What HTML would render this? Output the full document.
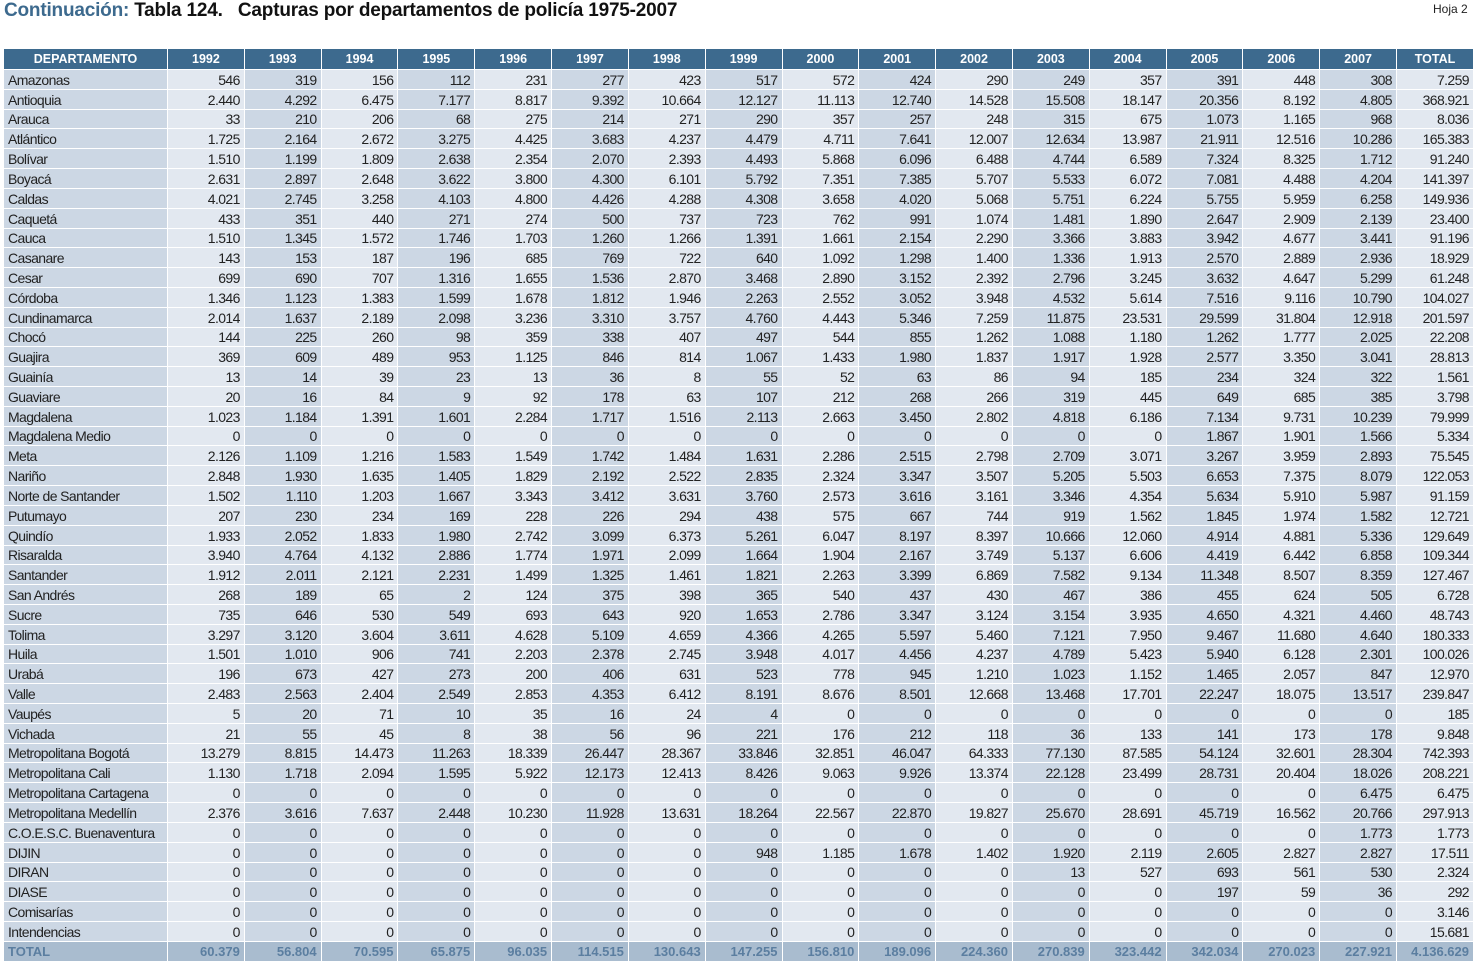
<!DOCTYPE html>
<html><head><meta charset="utf-8">
<style>
html,body{margin:0;padding:0;background:#fff;width:1480px;height:965px;overflow:hidden;font-family:"Liberation Sans",sans-serif;}
#title{position:absolute;left:4px;top:0px;font-size:19px;font-weight:bold;color:#111;white-space:nowrap;letter-spacing:-0.2px}
#title span{color:#3d6a8e}
#hoja{position:absolute;left:1433px;top:2px;font-size:12px;color:#222}
table{position:absolute;left:3px;top:48px;border-collapse:collapse;table-layout:fixed;width:1471px}
td,th{height:18.82px;padding:0 4px;border:1px solid #fff;font-size:14px;text-align:right;white-space:nowrap;overflow:hidden;color:#222;letter-spacing:-0.6px;line-height:18px;vertical-align:bottom}
th{background:#3d6a8e;color:#fff;font-size:12.5px;text-align:center;height:20px;font-weight:bold;letter-spacing:0;vertical-align:middle}
td.n{text-align:left}
td.d{background:#ccd7e4}
td.l{background:#e2e8f0}
tr.tot td{background:#a9bccf;color:#5b7ea0;font-weight:bold;font-size:13px;letter-spacing:0}
</style></head><body>
<div id="title"><span>Continuación:</span> Tabla 124.&nbsp;&nbsp; Capturas por departamentos de policía 1975-2007</div>
<div id="hoja">Hoja 2</div>
<table id="t">
<colgroup><col style="width:164px"></colgroup>
</table>
<script>
const headers=["DEPARTAMENTO","1992","1993","1994","1995","1996","1997","1998","1999","2000","2001","2002","2003","2004","2005","2006","2007","TOTAL"];
const rows=[
"Amazonas|546|319|156|112|231|277|423|517|572|424|290|249|357|391|448|308|7.259",
"Antioquia|2.440|4.292|6.475|7.177|8.817|9.392|10.664|12.127|11.113|12.740|14.528|15.508|18.147|20.356|8.192|4.805|368.921",
"Arauca|33|210|206|68|275|214|271|290|357|257|248|315|675|1.073|1.165|968|8.036",
"Atlántico|1.725|2.164|2.672|3.275|4.425|3.683|4.237|4.479|4.711|7.641|12.007|12.634|13.987|21.911|12.516|10.286|165.383",
"Bolívar|1.510|1.199|1.809|2.638|2.354|2.070|2.393|4.493|5.868|6.096|6.488|4.744|6.589|7.324|8.325|1.712|91.240",
"Boyacá|2.631|2.897|2.648|3.622|3.800|4.300|6.101|5.792|7.351|7.385|5.707|5.533|6.072|7.081|4.488|4.204|141.397",
"Caldas|4.021|2.745|3.258|4.103|4.800|4.426|4.288|4.308|3.658|4.020|5.068|5.751|6.224|5.755|5.959|6.258|149.936",
"Caquetá|433|351|440|271|274|500|737|723|762|991|1.074|1.481|1.890|2.647|2.909|2.139|23.400",
"Cauca|1.510|1.345|1.572|1.746|1.703|1.260|1.266|1.391|1.661|2.154|2.290|3.366|3.883|3.942|4.677|3.441|91.196",
"Casanare|143|153|187|196|685|769|722|640|1.092|1.298|1.400|1.336|1.913|2.570|2.889|2.936|18.929",
"Cesar|699|690|707|1.316|1.655|1.536|2.870|3.468|2.890|3.152|2.392|2.796|3.245|3.632|4.647|5.299|61.248",
"Córdoba|1.346|1.123|1.383|1.599|1.678|1.812|1.946|2.263|2.552|3.052|3.948|4.532|5.614|7.516|9.116|10.790|104.027",
"Cundinamarca|2.014|1.637|2.189|2.098|3.236|3.310|3.757|4.760|4.443|5.346|7.259|11.875|23.531|29.599|31.804|12.918|201.597",
"Chocó|144|225|260|98|359|338|407|497|544|855|1.262|1.088|1.180|1.262|1.777|2.025|22.208",
"Guajira|369|609|489|953|1.125|846|814|1.067|1.433|1.980|1.837|1.917|1.928|2.577|3.350|3.041|28.813",
"Guainía|13|14|39|23|13|36|8|55|52|63|86|94|185|234|324|322|1.561",
"Guaviare|20|16|84|9|92|178|63|107|212|268|266|319|445|649|685|385|3.798",
"Magdalena|1.023|1.184|1.391|1.601|2.284|1.717|1.516|2.113|2.663|3.450|2.802|4.818|6.186|7.134|9.731|10.239|79.999",
"Magdalena Medio|0|0|0|0|0|0|0|0|0|0|0|0|0|1.867|1.901|1.566|5.334",
"Meta|2.126|1.109|1.216|1.583|1.549|1.742|1.484|1.631|2.286|2.515|2.798|2.709|3.071|3.267|3.959|2.893|75.545",
"Nariño|2.848|1.930|1.635|1.405|1.829|2.192|2.522|2.835|2.324|3.347|3.507|5.205|5.503|6.653|7.375|8.079|122.053",
"Norte de Santander|1.502|1.110|1.203|1.667|3.343|3.412|3.631|3.760|2.573|3.616|3.161|3.346|4.354|5.634|5.910|5.987|91.159",
"Putumayo|207|230|234|169|228|226|294|438|575|667|744|919|1.562|1.845|1.974|1.582|12.721",
"Quindío|1.933|2.052|1.833|1.980|2.742|3.099|6.373|5.261|6.047|8.197|8.397|10.666|12.060|4.914|4.881|5.336|129.649",
"Risaralda|3.940|4.764|4.132|2.886|1.774|1.971|2.099|1.664|1.904|2.167|3.749|5.137|6.606|4.419|6.442|6.858|109.344",
"Santander|1.912|2.011|2.121|2.231|1.499|1.325|1.461|1.821|2.263|3.399|6.869|7.582|9.134|11.348|8.507|8.359|127.467",
"San Andrés|268|189|65|2|124|375|398|365|540|437|430|467|386|455|624|505|6.728",
"Sucre|735|646|530|549|693|643|920|1.653|2.786|3.347|3.124|3.154|3.935|4.650|4.321|4.460|48.743",
"Tolima|3.297|3.120|3.604|3.611|4.628|5.109|4.659|4.366|4.265|5.597|5.460|7.121|7.950|9.467|11.680|4.640|180.333",
"Huila|1.501|1.010|906|741|2.203|2.378|2.745|3.948|4.017|4.456|4.237|4.789|5.423|5.940|6.128|2.301|100.026",
"Urabá|196|673|427|273|200|406|631|523|778|945|1.210|1.023|1.152|1.465|2.057|847|12.970",
"Valle|2.483|2.563|2.404|2.549|2.853|4.353|6.412|8.191|8.676|8.501|12.668|13.468|17.701|22.247|18.075|13.517|239.847",
"Vaupés|5|20|71|10|35|16|24|4|0|0|0|0|0|0|0|0|185",
"Vichada|21|55|45|8|38|56|96|221|176|212|118|36|133|141|173|178|9.848",
"Metropolitana Bogotá|13.279|8.815|14.473|11.263|18.339|26.447|28.367|33.846|32.851|46.047|64.333|77.130|87.585|54.124|32.601|28.304|742.393",
"Metropolitana Cali|1.130|1.718|2.094|1.595|5.922|12.173|12.413|8.426|9.063|9.926|13.374|22.128|23.499|28.731|20.404|18.026|208.221",
"Metropolitana Cartagena|0|0|0|0|0|0|0|0|0|0|0|0|0|0|0|6.475|6.475",
"Metropolitana Medellín|2.376|3.616|7.637|2.448|10.230|11.928|13.631|18.264|22.567|22.870|19.827|25.670|28.691|45.719|16.562|20.766|297.913",
"C.O.E.S.C. Buenaventura|0|0|0|0|0|0|0|0|0|0|0|0|0|0|0|1.773|1.773",
"DIJIN|0|0|0|0|0|0|0|948|1.185|1.678|1.402|1.920|2.119|2.605|2.827|2.827|17.511",
"DIRAN|0|0|0|0|0|0|0|0|0|0|0|13|527|693|561|530|2.324",
"DIASE|0|0|0|0|0|0|0|0|0|0|0|0|0|197|59|36|292",
"Comisarías|0|0|0|0|0|0|0|0|0|0|0|0|0|0|0|0|3.146",
"Intendencias|0|0|0|0|0|0|0|0|0|0|0|0|0|0|0|0|15.681",
"TOTAL|60.379|56.804|70.595|65.875|96.035|114.515|130.643|147.255|156.810|189.096|224.360|270.839|323.442|342.034|270.023|227.921|4.136.629"
];
const t=document.getElementById('t');
const hr=document.createElement('tr');


headers.forEach(h=>{const th=document.createElement('th');th.textContent=h;


hr.appendChild(th);});
t.appendChild(hr);
rows.forEach((r,ri)=>{
 const tr=document.createElement('tr');
 const cells=r.split('|');
 if(cells[0]==='TOTAL')tr.className='tot';
 
 
 cells.forEach((c,i)=>{const td=document.createElement('td');td.textContent=c;
  td.className=(i===0?'n ':'')+(i%2===0?'d':'l');
  
  
  tr.appendChild(td);});
 t.appendChild(tr);
});
</script>
</body></html>
